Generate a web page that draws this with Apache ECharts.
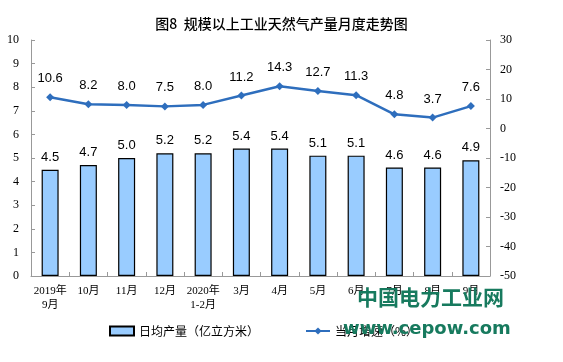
<!DOCTYPE html>
<html><head><meta charset="utf-8">
<script src="https://cdn.jsdelivr.net/npm/echarts@6/dist/echarts.min.js"></script>
<style>html,body{margin:0;padding:0;background:#fff}#c{width:563px;height:362px}</style>
</head><body><div id="c"></div>
<script>
const categories = ['2019年\n9月','10月','11月','12月','2020年\n1-2月','3月','4月','5月','6月','7月','8月','9月'];
const dailyOutput = [4.5,4.7,5.0,5.2,5.2,5.4,5.4,5.1,5.1,4.6,4.6,4.9];
const growthRate = [10.6,8.2,8.0,7.5,8.0,11.2,14.3,12.7,11.3,4.8,3.7,7.6];
const barName = '日均产量（亿立方米）';
const lineName = '当月增速（%）';

const chart = echarts.init(document.getElementById('c'));
const serif = '"Liberation Serif","Noto Sans CJK SC",serif';
const sans = '"Liberation Sans","Noto Sans CJK SC",sans-serif';
chart.setOption({
  animation:false,
  title:{text:'图8  规模以上工业天然气产量月度走势图',left:'center',top:12,
    textStyle:{fontFamily:'"Noto Sans CJK SC",sans-serif',fontSize:14,fontWeight:500,color:'#000'}},
  grid:{left:31,right:73,top:40,bottom:86},
  legend:{bottom:20,left:104,itemGap:46,itemWidth:24,itemHeight:9,
    textStyle:{fontFamily:'"Noto Sans CJK SC",sans-serif',fontSize:12,color:'#000'},
    data:[{name:barName,icon:'rect'},{name:lineName}]},
  xAxis:{type:'category',data:categories,
    axisLine:{lineStyle:{color:'#999'}},
    axisTick:{show:true,inside:true,length:4,lineStyle:{color:'#999'}},
    axisLabel:{fontFamily:serif,fontSize:11,color:'#000',margin:8,lineHeight:14,interval:0}},
  yAxis:[
    {type:'value',min:0,max:10,interval:1,splitLine:{show:false},
     axisLine:{show:true,lineStyle:{color:'#999'}},
     axisTick:{show:true,inside:true,length:4,lineStyle:{color:'#999'}},
     axisLabel:{fontFamily:serif,fontSize:12,color:'#000',margin:12}},
    {type:'value',min:-50,max:30,interval:10,splitLine:{show:false},
     axisLine:{show:true,lineStyle:{color:'#999'}},
     axisTick:{show:true,inside:true,length:4,lineStyle:{color:'#999'}},
     axisLabel:{fontFamily:serif,fontSize:12,color:'#000',margin:10}}
  ],
  series:[
    {name:barName,type:'bar',data:dailyOutput,barWidth:17,
     itemStyle:{color:'#99ccff',borderColor:'#000',borderWidth:1.2},
     label:{show:true,position:'top',formatter:p=>p.value.toFixed(1),
       fontFamily:sans,fontSize:13,color:'#000',distance:6}},
    {name:lineName,type:'line',yAxisIndex:1,data:growthRate,
     symbol:'diamond',symbolSize:8,
     lineStyle:{color:'#2e6ebd',width:2.5},itemStyle:{color:'#2e6ebd'},
     label:{show:true,position:'top',formatter:p=>p.value.toFixed(1),
       fontFamily:sans,fontSize:13,color:'#000',distance:8}}
  ],
  graphic:[
    {type:'text',left:357,top:287,z:100,style:{text:'中国电力工业网',fill:'#177a5e',
      font:'bold 21px "Noto Sans CJK SC",sans-serif'}},
    {type:'text',left:343,top:320,z:100,style:{text:'www.cepow.com',fill:'#177a5e',
      font:'bold 18px "DejaVu Sans",sans-serif'}}
  ]
});
</script></body></html>
